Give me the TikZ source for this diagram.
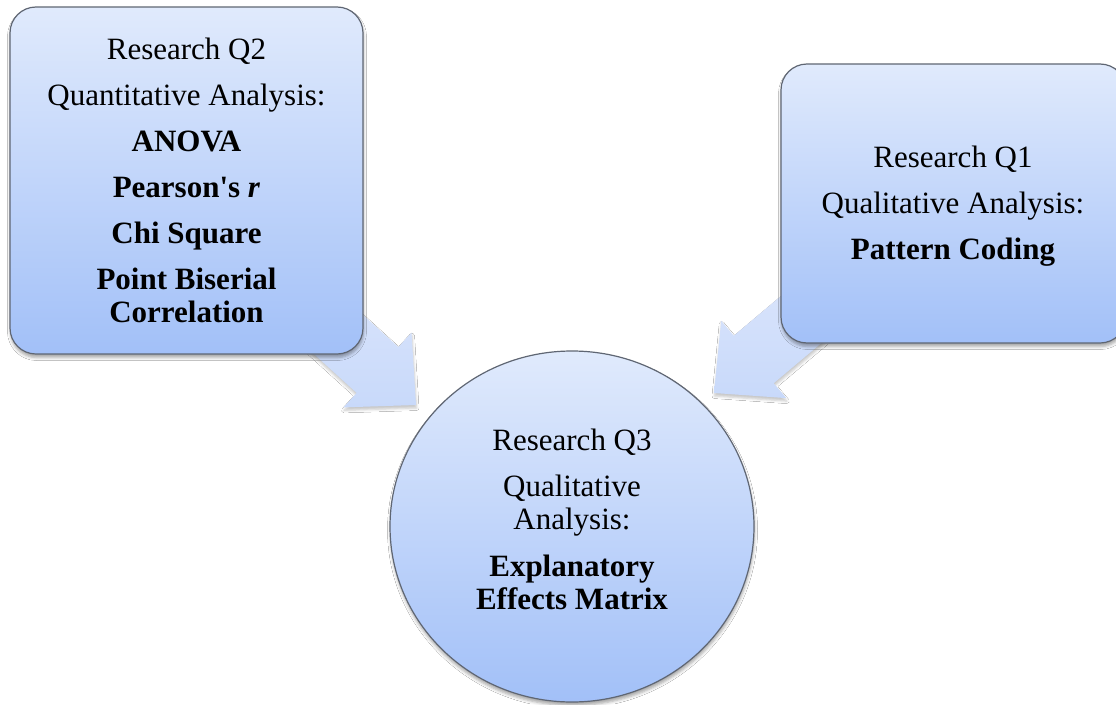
\documentclass[tikz,border=0pt]{standalone}
\usepackage{fontspec}
\newfontfamily\diagfont{Liberation Serif}
\usetikzlibrary{calc,shapes.geometric,shadows.blur}

\definecolor{paneltop}{HTML}{E0EAFC}
\definecolor{panelbot}{HTML}{A2C0F8}
\definecolor{paneledge}{HTML}{5F6673}
\definecolor{flowtop}{HTML}{DFE8FC}
\definecolor{flowbot}{HTML}{C8D9FA}

\tikzset{
  txt/.style={align=center, inner sep=0pt,
    font=\diagfont\fontsize{31}{33}\selectfont},
  panel/.style={txt, draw=paneledge, line width=1.2pt,
    top color=paneltop, bottom color=panelbot,
    blur shadow={shadow xshift=0.5pt, shadow yshift=-3.5pt,
      shadow blur radius=3pt, shadow opacity=35}},
  qbox/.style={panel, rectangle, rounded corners=26pt},
  flow/.style={top color=flowtop, bottom color=flowbot,
    blur shadow={shadow xshift=0.5pt, shadow yshift=-3pt,
      shadow blur radius=2.5pt, shadow opacity=22}},
}

% block arrow from #1 (tail) to #2 (tip); #3 prefixes the helper coordinate
\newcommand\blockarrow[3]{%
  \coordinate (#3h) at ($(#2)!52pt!(#1)$);
  \path[flow] ($(#3h)!50.5pt!90:(#2)$) -- (#2) -- ($(#3h)!50.5pt!-90:(#2)$)
    -- ($(#3h)!31pt!-90:(#2)$) -- ($(#1)!31pt!-90:(#2)$)
    -- ($(#1)!31pt!90:(#2)$) -- ($(#3h)!31pt!90:(#2)$) -- cycle;
}

\begin{document}
\begin{tikzpicture}[x=1pt,y=-1pt]
\clip (0,0) rectangle (1116,704);
\fill[white] (0,0) rectangle (1116,704);

% arrows run from inside the boxes towards the circle
\coordinate (q2src) at (267,269.5);
\coordinate (q2tip) at (416,405);
\coordinate (q1src) at (866.5,264.5);
\coordinate (q1tip) at (714,393);
\blockarrow{q2src}{q2tip}{la}
\blockarrow{q1src}{q1tip}{ra}

% Research Q2
\node[qbox, minimum width=353pt, minimum height=347pt] (q2) at (186.5,180.5)
  {Research Q2\\[13pt]
   Quantitative Analysis:\\[13pt]
   \textbf{ANOVA}\\[13pt]
   \textbf{Pearson's \textit{r}}\\[13pt]
   \textbf{Chi Square}\\[13pt]
   \textbf{Point Biserial}\\
   \textbf{Correlation}};

% Research Q1
\node[qbox, minimum width=345pt, minimum height=279pt] (q1) at (953.5,203.5) {};
\node[txt] (q1text) at (953,206)
  {Research Q1\\[13pt]
   Qualitative Analysis:\\[13pt]
   \textbf{Pattern Coding}};

% Research Q3
\node[panel, ellipse, minimum width=364pt, minimum height=351pt] (q3) at (572,526.5) {};
\node[txt] (q3text) at (572,519.5)
  {Research Q3\\[13pt]
   Qualitative\\
   Analysis:\\[14pt]
   \textbf{Explanatory}\\
   \textbf{Effects Matrix}};
\end{tikzpicture}
\end{document}
